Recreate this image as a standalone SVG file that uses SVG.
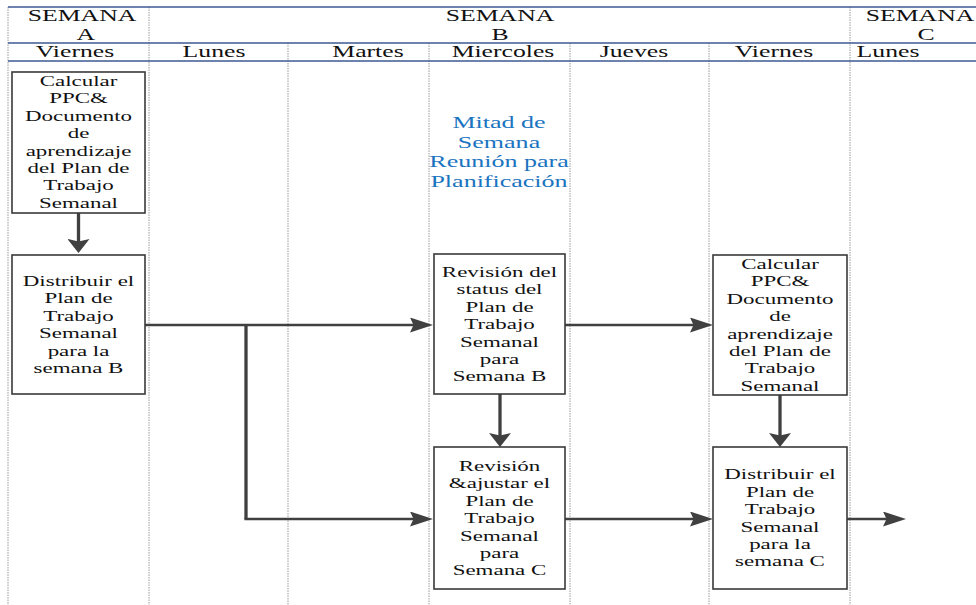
<svg xmlns="http://www.w3.org/2000/svg" width="976" height="605" viewBox="0 0 976 605">
  <style>
    .hdr { font-family: "Liberation Serif", "Times New Roman", serif; font-size: 16.8px; fill: #111; text-anchor: middle; }
    .box-text { font-family: "Liberation Serif", "Times New Roman", serif; font-size: 15px; fill: #111; text-anchor: middle; }
    .note { font-family: "Liberation Serif", "Times New Roman", serif; font-size: 17px; fill: #1b74c0; text-anchor: middle; }
    .rule { stroke: #3d5890; stroke-width: 1.3; fill: none; }
    .lane { stroke: #9a9a9a; stroke-width: 1; stroke-dasharray: 1.5 1; fill: none; }
    .box { fill: #fff; stroke: #3a3a3a; stroke-width: 1.6; }
    .h { stroke: #404040; stroke-width: 2.3; fill: none; }
    .v { stroke: #404040; stroke-width: 3.3; fill: none; }
  </style>
  <defs>
    <marker id="arrH" markerUnits="userSpaceOnUse" viewBox="0 0 23 15" markerWidth="23" markerHeight="15" refX="13" refY="7.5" orient="auto">
      <path d="M0,0 L23,7.5 L0,15 L3.5,7.5 Z" fill="#404040"/>
    </marker>
    <marker id="arrV" markerUnits="userSpaceOnUse" viewBox="0 0 14 22" markerWidth="14" markerHeight="22" refX="8" refY="11" orient="auto">
      <path d="M0,0 L14,11 L0,22 L2.5,11 Z" fill="#404040"/>
    </marker>
  </defs>

  <rect width="976" height="605" fill="#fff"/>

  <!-- swimlane dividers -->
  <g id="lanes">
    <line class="lane" x1="8" y1="7" x2="8" y2="605"/>
    <line class="lane" x1="149" y1="7" x2="149" y2="605"/>
    <line class="lane" x1="288" y1="43" x2="288" y2="605"/>
    <line class="lane" x1="429" y1="43" x2="429" y2="605"/>
    <line class="lane" x1="570" y1="43" x2="570" y2="605"/>
    <line class="lane" x1="709" y1="43" x2="709" y2="605"/>
    <line class="lane" x1="850" y1="7" x2="850" y2="605"/>
  </g>

  <!-- week / day header -->
  <g id="header">
    <line class="rule" x1="8" y1="7" x2="976" y2="7"/>
    <line class="rule" x1="8" y1="43" x2="976" y2="43"/>
    <line class="rule" x1="8" y1="61" x2="976" y2="61"/>
    <text class="hdr" transform="matrix(1.53 0 0 1 82 0)"><tspan x="0" y="21">SEMANA</tspan><tspan x="2.5" y="40.5">A</tspan></text>
    <text class="hdr" transform="matrix(1.53 0 0 1 500 0)"><tspan x="0" y="21">SEMANA</tspan><tspan x="0" y="40.5">B</tspan></text>
    <text class="hdr" transform="matrix(1.53 0 0 1 920 0)"><tspan x="0" y="21">SEMANA</tspan><tspan x="4" y="40.5">C</tspan></text>
    <text class="hdr" transform="matrix(1.53 0 0 1 75 0)" y="57">Viernes</text>
    <text class="hdr" transform="matrix(1.53 0 0 1 214 0)" y="57">Lunes</text>
    <text class="hdr" transform="matrix(1.53 0 0 1 368 0)" y="57">Martes</text>
    <text class="hdr" transform="matrix(1.53 0 0 1 503 0)" y="57">Miercoles</text>
    <text class="hdr" transform="matrix(1.53 0 0 1 634 0)" y="57">Jueves</text>
    <text class="hdr" transform="matrix(1.53 0 0 1 774 0)" y="57">Viernes</text>
    <text class="hdr" transform="matrix(1.53 0 0 1 888 0)" y="57">Lunes</text>
  </g>

  <!-- connectors -->
  <g id="connectors">
    <line class="v" x1="78.5" y1="213" x2="78.5" y2="247" marker-end="url(#arrV)"/>
    <line class="h" x1="145" y1="325" x2="423" y2="325" marker-end="url(#arrH)"/>
    <line class="v" x1="246" y1="324" x2="246" y2="519"/>
    <line class="h" x1="244.4" y1="519" x2="423" y2="519" marker-end="url(#arrH)"/>
    <line class="h" x1="565" y1="325" x2="703" y2="325" marker-end="url(#arrH)"/>
    <line class="v" x1="500" y1="394" x2="500" y2="441" marker-end="url(#arrV)"/>
    <line class="h" x1="565" y1="519" x2="703" y2="519" marker-end="url(#arrH)"/>
    <line class="v" x1="780" y1="395" x2="780" y2="441" marker-end="url(#arrV)"/>
    <line class="h" x1="847" y1="519" x2="896" y2="519" marker-end="url(#arrH)"/>
  </g>

  <!-- midweek planning meeting label -->
  <g id="midweek-note">
    <text class="note" transform="matrix(1.53 0 0 1 499 0)"><tspan x="0" y="128.5">Mitad de</tspan><tspan x="0" y="148">Semana</tspan><tspan x="0" y="167.5">Reunión para</tspan><tspan x="0" y="187">Planificación</tspan></text>
  </g>

  <g id="calc-ppc-a">
    <rect class="box" x="12" y="72" width="133" height="141"/>
    <text class="box-text" transform="matrix(1.53 0 0 1 78.5 0)"><tspan x="0" y="86">Calcular</tspan><tspan x="0" y="103.4">PPC&amp;</tspan><tspan x="0" y="120.8">Documento</tspan><tspan x="0" y="138.2">de</tspan><tspan x="0" y="155.6">aprendizaje</tspan><tspan x="0" y="173">del Plan de</tspan><tspan x="0" y="190.4">Trabajo</tspan><tspan x="0" y="207.8">Semanal</tspan></text>
  </g>

  <g id="distribuir-b">
    <rect class="box" x="12" y="255" width="133" height="139"/>
    <text class="box-text" transform="matrix(1.53 0 0 1 78.5 0)"><tspan x="0" y="286">Distribuir el</tspan><tspan x="0" y="303.4">Plan de</tspan><tspan x="0" y="320.8">Trabajo</tspan><tspan x="0" y="338.2">Semanal</tspan><tspan x="0" y="355.6">para la</tspan><tspan x="0" y="373">semana B</tspan></text>
  </g>

  <g id="revision-status-b">
    <rect class="box" x="434" y="254" width="131" height="140"/>
    <text class="box-text" transform="matrix(1.53 0 0 1 499.5 0)"><tspan x="0" y="277">Revisión del</tspan><tspan x="0" y="294.4">status del</tspan><tspan x="0" y="311.8">Plan de</tspan><tspan x="0" y="329.2">Trabajo</tspan><tspan x="0" y="346.6">Semanal</tspan><tspan x="0" y="364">para</tspan><tspan x="0" y="381.4">Semana B</tspan></text>
  </g>

  <g id="revision-ajuste-c">
    <rect class="box" x="434" y="447" width="131" height="142"/>
    <text class="box-text" transform="matrix(1.53 0 0 1 499.5 0)"><tspan x="0" y="471">Revisión</tspan><tspan x="0" y="488.4">&amp;ajustar el</tspan><tspan x="0" y="505.8">Plan de</tspan><tspan x="0" y="523.2">Trabajo</tspan><tspan x="0" y="540.6">Semanal</tspan><tspan x="0" y="558">para</tspan><tspan x="0" y="575.4">Semana C</tspan></text>
  </g>

  <g id="calc-ppc-b">
    <rect class="box" x="713" y="255" width="134" height="140"/>
    <text class="box-text" transform="matrix(1.53 0 0 1 780 0)"><tspan x="0" y="269">Calcular</tspan><tspan x="0" y="286.4">PPC&amp;</tspan><tspan x="0" y="303.8">Documento</tspan><tspan x="0" y="321.2">de</tspan><tspan x="0" y="338.6">aprendizaje</tspan><tspan x="0" y="356">del Plan de</tspan><tspan x="0" y="373.4">Trabajo</tspan><tspan x="0" y="390.8">Semanal</tspan></text>
  </g>

  <g id="distribuir-c">
    <rect class="box" x="713" y="447" width="134" height="142"/>
    <text class="box-text" transform="matrix(1.53 0 0 1 780 0)"><tspan x="0" y="479.5">Distribuir el</tspan><tspan x="0" y="496.9">Plan de</tspan><tspan x="0" y="514.3">Trabajo</tspan><tspan x="0" y="531.7">Semanal</tspan><tspan x="0" y="549.1">para la</tspan><tspan x="0" y="566.5">semana C</tspan></text>
  </g>
</svg>
